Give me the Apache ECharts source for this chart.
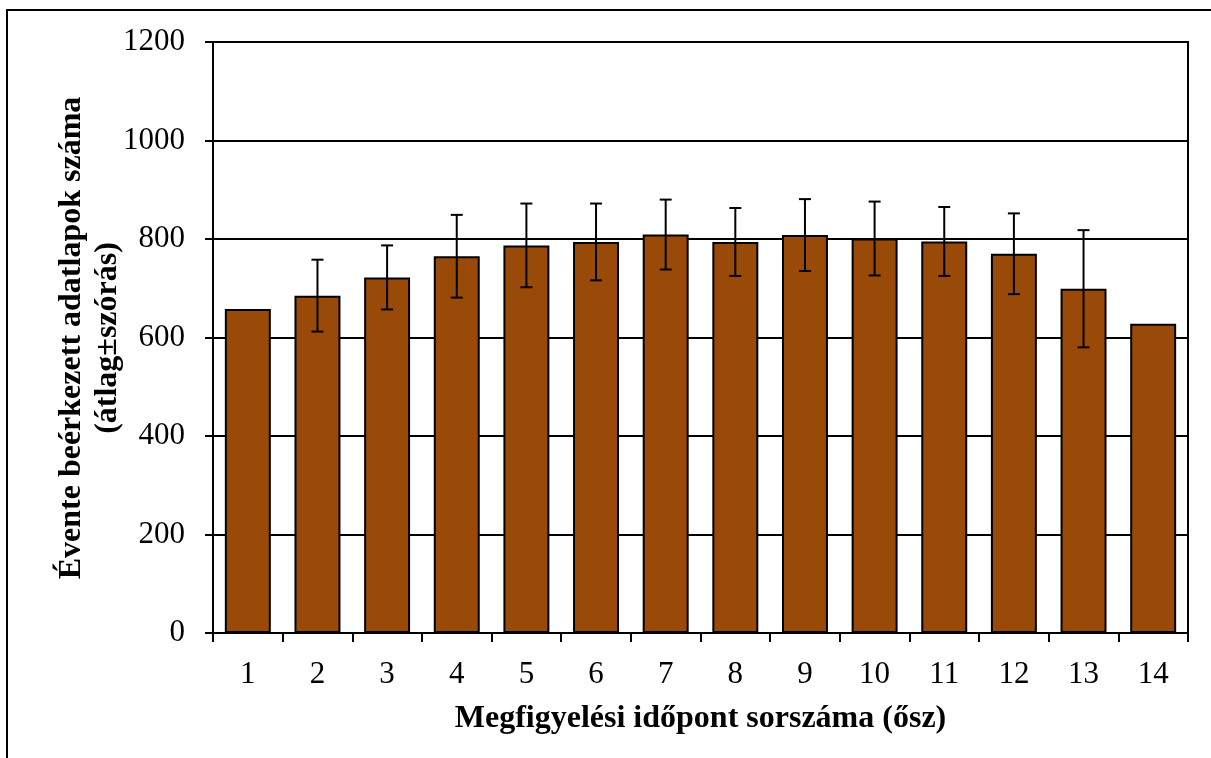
<!DOCTYPE html>
<html>
<head>
<meta charset="utf-8">
<script src="https://cdn.jsdelivr.net/npm/echarts@6/dist/echarts.min.js"></script>
<style>
html,body{margin:0;padding:0;background:#fff;}
#chart{width:1211px;height:758px;}
</style>
</head>
<body>
<div id="chart"></div>
<script>
var categories = ['1','2','3','4','5','6','7','8','9','10','11','12','13','14'];
var means = [658, 685, 722, 765, 787, 794, 809, 794, 808, 801, 795, 770, 699, 628];
var sds = [0, 73, 65, 84, 85, 78, 71, 69, 73, 75, 70, 82, 119, 0];
var yTicks = [0, 200, 400, 600, 800, 1000, 1200];
var yTitleLines = ['Évente beérkezett adatlapok száma', '(átlag±szórás)'];
var xTitle = 'Megfigyelési időpont sorszáma (ősz)';

var errData = categories.map(function (c, i) {
  return [i, means[i] - sds[i], means[i] + sds[i], sds[i]];
});

var FONT = '"Liberation Serif", "Times New Roman", serif';
var chart = echarts.init(document.getElementById('chart'));
chart.setOption({
  animation: false,
  backgroundColor: '#fff',
  graphic: [{
    type: 'rect',
    shape: { x: 7, y: 10, width: 1300, height: 900 },
    style: { fill: 'none', stroke: '#000', lineWidth: 2 },
    silent: true, z: -1
  }, {
    type: 'text', x: 72, y: 338, rotation: Math.PI / 2,
    style: { text: yTitleLines[0], fill: '#000', font: 'bold 32px ' + FONT, align: 'center', verticalAlign: 'middle' }
  }, {
    type: 'text', x: 108, y: 338, rotation: Math.PI / 2,
    style: { text: yTitleLines[1], fill: '#000', font: 'bold 32px ' + FONT, align: 'center', verticalAlign: 'middle' }
  }],
  grid: {
    left: 213, right: 23, top: 42, bottom: 125,
    show: true, borderColor: '#000', borderWidth: 2, backgroundColor: 'transparent'
  },
  xAxis: {
    type: 'category',
    data: categories,
    boundaryGap: true,
    axisLine: { lineStyle: { color: '#000', width: 2 } },
    axisTick: { show: true, inside: false, length: 9, alignWithLabel: false, lineStyle: { color: '#000', width: 2 } },
    axisLabel: { color: '#000', fontFamily: FONT, fontSize: 31, margin: 26 },
    name: xTitle,
    nameLocation: 'middle',
    nameGap: 70,
    nameTextStyle: { color: '#000', fontFamily: FONT, fontSize: 32, fontWeight: 'bold' }
  },
  yAxis: {
    type: 'value',
    min: 0, max: 1200, interval: 200,
    axisLine: { show: true, lineStyle: { color: '#000', width: 2 } },
    axisTick: { show: true, inside: false, length: 8, lineStyle: { color: '#000', width: 2 } },
    axisLabel: {
      color: '#000', fontFamily: FONT, fontSize: 31, margin: 28,
      formatter: function (v) { return yTicks.indexOf(v) >= 0 ? String(v) : ''; }
    },
    splitLine: { show: true, lineStyle: { color: '#000', width: 2 } }
  },
  series: [{
    type: 'bar',
    data: means,
    barWidth: '66%',
    itemStyle: { color: '#9A4A08', borderColor: '#000', borderWidth: 2 },
    z: 2
  }, {
    type: 'custom',
    data: errData,
    z: 3,
    renderItem: function (params, api) {
      if (api.value(3) === 0) return null;
      var x = api.value(0);
      var lo = api.coord([x, api.value(1)]);
      var hi = api.coord([x, api.value(2)]);
      var hw = 6;
      var st = { stroke: '#000', lineWidth: 2, fill: 'none' };
      return {
        type: 'group',
        children: [
          { type: 'line', shape: { x1: hi[0], y1: hi[1], x2: lo[0], y2: lo[1] }, style: st },
          { type: 'line', shape: { x1: hi[0] - hw, y1: hi[1], x2: hi[0] + hw, y2: hi[1] }, style: st },
          { type: 'line', shape: { x1: lo[0] - hw, y1: lo[1], x2: lo[0] + hw, y2: lo[1] }, style: st }
        ]
      };
    }
  }]
});
</script>
</body>
</html>
